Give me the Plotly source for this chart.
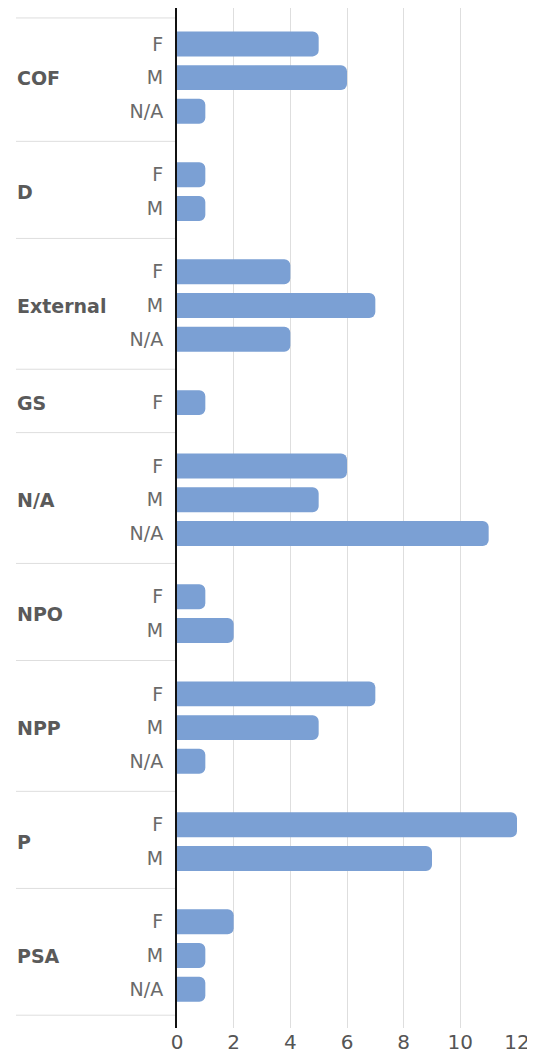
import plotly.graph_objects as go

groups = ["COF", "D", "External", "GS", "N/A", "NPO", "NPP", "P", "PSA"]
sub_labels = [
    ["F", "M", "N/A"],
    ["F", "M"],
    ["F", "M", "N/A"],
    ["F"],
    ["F", "M", "N/A"],
    ["F", "M"],
    ["F", "M", "N/A"],
    ["F", "M"],
    ["F", "M", "N/A"],
]
counts = [
    [5, 6, 1],
    [1, 1],
    [4, 7, 4],
    [1],
    [6, 5, 11],
    [1, 2],
    [7, 5, 1],
    [12, 9],
    [2, 1, 1],
]
x_ticks = [0, 2, 4, 6, 8, 10, 12]

GAP = 0.88      # extra space between groups (in bar slots)
EDGE = 0.77     # space from outer dividers to first/last bar

FONT = "DejaVu Sans"
BAR_COLOR = "#7ba0d4"
GRID = "#dedede"

# compute y positions
ys, xs, ticktext = [], [], []
group_centers, dividers = [], []
pos = 0.0
prev_last = None
for gi, (g, subs, vals) in enumerate(zip(groups, sub_labels, counts)):
    if prev_last is not None:
        pos = prev_last + 1 + GAP
        dividers.append((prev_last + pos) / 2 - 0.05)
    first = pos
    for s, v in zip(subs, vals):
        ys.append(pos)
        xs.append(v)
        ticktext.append(s)
        pos += 1
    last = pos - 1
    group_centers.append((first + last) / 2)
    prev_last = last

top_div = ys[0] - EDGE
bot_div = ys[-1] + EDGE
dividers = [top_div] + dividers + [bot_div]

fig = go.Figure(go.Bar(
    x=xs, y=ys, orientation="h", width=0.74,
    marker=dict(color=BAR_COLOR, cornerradius=6, line=dict(width=0)),
    hoverinfo="x",
))

# page body has an 8px margin, so the figure is sized/offset accordingly
ML, MR, MT, MB = 169, 18, 0, 31
W, H = 527, 1051
plot_w = W - ML - MR
lab_x = (7 - ML) / plot_w

shapes = []
for d in dividers:
    shapes.append(dict(type="line", xref="paper", yref="y", x0=(8 - ML) / plot_w, x1=0, y0=d, y1=d,
                       line=dict(color=GRID, width=1), layer="below"))

annotations = []
for g, c in zip(groups, group_centers):
    annotations.append(dict(text=g, xref="paper", yref="y", x=lab_x, y=c, xanchor="left",
                            yanchor="middle", showarrow=False,
                            font=dict(family=FONT, size=19, color="#5a5a5a", weight="bold")))

fig.update_layout(
    width=W, height=H,
    margin=dict(l=ML, r=MR, t=MT, b=MB, autoexpand=False),
    plot_bgcolor="white", paper_bgcolor="white",
    showlegend=False,
    shapes=shapes, annotations=annotations,
    xaxis=dict(range=[0, 12.0], tickvals=x_ticks, ticktext=[str(t) for t in x_ticks],
               showgrid=True, gridcolor=GRID, gridwidth=1, zeroline=False,
               showline=False, ticks="", ticklen=0, automargin=False,
               tickfont=dict(family=FONT, size=20, color="#555555")),
    yaxis=dict(range=[ys[-1] + 1.15, ys[0] - 1.065], tickvals=ys, ticktext=ticktext,
               showgrid=False, zeroline=False, showline=True, linecolor="#111111", linewidth=2,
               ticks="", ticklabelstandoff=8, automargin=False,
               tickfont=dict(family=FONT, size=19, color="#6a6a6a")),
)

fig.write_html("out.html")
